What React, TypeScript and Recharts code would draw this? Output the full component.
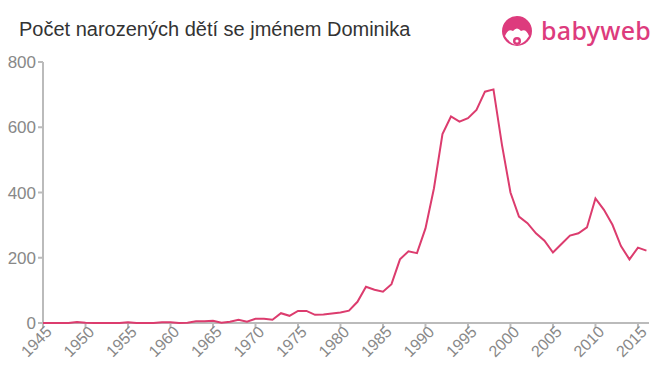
import React from "react";
import { LineChart, Line, XAxis, YAxis } from "recharts";

const years: number[] = [
  1945, 1946, 1947, 1948, 1949, 1950, 1951, 1952, 1953, 1954, 1955, 1956, 1957, 1958, 1959, 1960,
  1961, 1962, 1963, 1964, 1965, 1966, 1967, 1968, 1969, 1970, 1971, 1972, 1973, 1974, 1975, 1976,
  1977, 1978, 1979, 1980, 1981, 1982, 1983, 1984, 1985, 1986, 1987, 1988, 1989, 1990, 1991, 1992,
  1993, 1994, 1995, 1996, 1997, 1998, 1999, 2000, 2001, 2002, 2003, 2004, 2005, 2006, 2007, 2008,
  2009, 2010, 2011, 2012, 2013, 2014, 2015, 2016,
];
const births: number[] = [
  0, 0, 0, 0, 3, 1, 0, 0, 0, 0, 2, 0, 0, 0, 2, 2,
  0, 1, 5, 5, 7, 1, 4, 10, 4, 13, 13, 10, 30, 22, 37, 37,
  25, 26, 29, 32, 38, 65, 111, 102, 96, 119, 195, 220, 214, 290, 413, 579,
  633, 617, 628, 653, 709, 716, 546, 400, 326, 306, 275, 252, 216, 242, 268, 275,
  293, 382, 347, 301, 236, 195, 231, 222,
];
const xTicks: number[] = [1945, 1950, 1955, 1960, 1965, 1970, 1975, 1980, 1985, 1990, 1995, 2000, 2005, 2010, 2015];
const yTicks: number[] = [0, 200, 400, 600, 800];

const data = years.map((y, i) => ({ year: y, value: births[i] }));

const AXIS = "#bbbbbb";
const TEXT = "#888888";
const PINK = "#dc3c6e";

const XTick = (props: any) => {
  const { x, y, payload } = props;
  return (
    <text
      x={x}
      y={y}
      dx={5}
      dy={9}
      transform={`rotate(-45 ${x} ${y})`}
      textAnchor="end"
      fill={TEXT}
      fontSize={16}
      fontFamily="Liberation Sans, Arial, sans-serif"
    >
      {payload.value}
    </text>
  );
};

export default function App() {
  return (
    <div style={{ position: "absolute", left: 0, top: 0, width: 660, height: 375, background: "#fff" }}>
      <div
        style={{
          position: "absolute",
          left: 19,
          top: 18,
          fontFamily: "Liberation Sans, Arial, sans-serif",
          fontSize: 20,
          color: "#333333",
          whiteSpace: "nowrap",
        }}
      >
        Počet narozených dětí se jménem Dominika
      </div>
      <svg style={{ position: "absolute", left: 500, top: 14 }} width={160} height={36}>
        <circle cx={17} cy={17} r={15} fill="#dd3b7d" />
        <path d="M5 22 Q8 14 13 17 Q17 12 21 17 Q26 14 29 22 Q24 30 17 31 Q10 30 5 22 Z" fill="#fff" />
        <circle cx={17} cy={27} r={4} fill="#dd3b7d" />
        <circle cx={17} cy={27} r={1.6} fill="#fff" />
        <text
          x={41}
          y={26}
          fill="#dd3b7d"
          fontSize={25}
          fontWeight={500}
          fontFamily="Noto Sans, Open Sans, sans-serif"
          letterSpacing={0.3}
        >
          babyweb
        </text>
      </svg>
      <div style={{ position: "absolute", left: 0, top: 0 }}>
        <LineChart
          width={660}
          height={375}
          data={data}
          margin={{ top: 62, right: 11, bottom: 22, left: 0 }}
        >
          <XAxis
            dataKey="year"
            type="number"
            domain={[1945, 2016.3]}
            ticks={xTicks}
            interval={0}
            height={30}
            tick={<XTick />}
            stroke={AXIS}
            strokeWidth={2}
            tickLine={{ stroke: AXIS, strokeWidth: 2 }}
            tickSize={5}
            allowDataOverflow
          />
          <YAxis
            type="number"
            domain={[0, 800]}
            ticks={yTicks}
            interval={0}
            width={43}
            stroke={AXIS}
            strokeWidth={2}
            tickLine={{ stroke: AXIS, strokeWidth: 2 }}
            tickSize={5}
            tick={{ fill: TEXT, fontSize: 17, fontFamily: "Liberation Sans, Arial, sans-serif" }}
          />
          <Line
            type="linear"
            dataKey="value"
            stroke={PINK}
            strokeWidth={2}
            dot={false}
            zIndex={1000}
            isAnimationActive={false}
          />
        </LineChart>
      </div>
    </div>
  );
}
